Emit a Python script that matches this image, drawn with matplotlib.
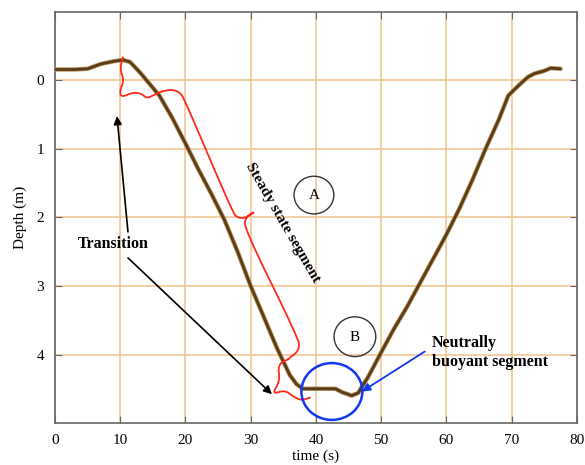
import numpy as np
import matplotlib
matplotlib.use("Agg")
import matplotlib.pyplot as plt
import matplotlib.patheffects as pe
from matplotlib.patches import Ellipse

# Dive profile
time_s = [0, 3, 5, 7, 9, 10.4, 11.5, 13, 14.5, 16, 18, 20, 22, 24, 26, 28, 30, 32,
          34, 35, 36, 37, 38, 40, 43, 44, 45.5, 46.5, 47, 48, 50, 52, 54, 56, 58,
          60, 62, 64, 66, 68, 69.5, 71, 72.5, 73.5, 75, 76, 77.5]
depth_m = [-0.16, -0.16, -0.17, -0.24, -0.28, -0.30, -0.27, -0.12, 0.05, 0.22,
           0.55, 0.92, 1.30, 1.66, 2.04, 2.50, 3.00, 3.45, 3.90, 4.10, 4.30, 4.43,
           4.50, 4.50, 4.50, 4.55, 4.60, 4.56, 4.48, 4.33, 3.97, 3.62, 3.30, 2.95,
           2.60, 2.25, 1.87, 1.45, 1.00, 0.58, 0.22, 0.08, -0.05, -0.10, -0.14,
           -0.18, -0.17]

x_ticks = [0, 10, 20, 30, 40, 50, 60, 70, 80]
y_ticks = [0, 1, 2, 3, 4]

# Red braces (time, depth)
brace_top = [(10.42, -0.335), (9.96, -0.175), (10.57, 0.0), (9.96, 0.145),
             (10.11, 0.247), (11.95, 0.175), (13.18, 0.189), (14.10, 0.262),
             (15.02, 0.218), (16.40, 0.16)]
brace_steady = [(16.40, 0.16), (17.93, 0.131), (19.16, 0.175), (19.92, 0.29),
                (27.28, 1.935), (28.05, 2.007), (29.27, 2.007), (30.80, 1.905),
                (29.27, 1.99), (28.97, 2.15), (37.24, 3.75), (37.55, 3.93),
                (35.71, 4.07)]
brace_bottom = [(35.71, 4.07), (34.18, 4.145), (34.48, 4.39), (33.26, 4.58),
                (35.25, 4.52), (36.47, 4.61), (37.70, 4.67), (39.08, 4.63)]


def chaikin(pts, n=2):
    # round off the corners of a hand-drawn brace
    p = np.array(pts, dtype=float)
    for _ in range(n):
        q = 0.75 * p[:-1] + 0.25 * p[1:]
        r = 0.25 * p[:-1] + 0.75 * p[1:]
        mid = np.empty((2 * len(q), 2))
        mid[0::2] = q
        mid[1::2] = r
        p = np.vstack([p[:1], mid, p[-1:]])
    return p


serif = ["Liberation Serif", "DejaVu Serif"]
plt.rcParams["font.family"] = serif

fig = plt.figure(figsize=(5.85, 4.65), dpi=100)
ax = fig.add_axes([0.094, 0.0903, 0.892, 0.884])

ax.plot(time_s, depth_m, color="#5a3c16", lw=2.0, solid_capstyle="round",
        solid_joinstyle="round",
        path_effects=[pe.Stroke(linewidth=3.2, foreground="#b8955f"), pe.Normal()],
        zorder=3)

ax.set_xlim(0, 80)
ax.set_ylim(5, -1)
ax.set_xticks(x_ticks)
ax.set_yticks(y_ticks)
ax.grid(True, color="#f0c28a", lw=1.1)
ax.set_axisbelow(True)
ax.tick_params(direction="in", top=True, right=True, length=5, color="#666666",
               labelsize=11, pad=8)
for sp in ax.spines.values():
    sp.set_color("#666666")
    sp.set_linewidth(1.2)
ax.set_xlabel("time (s)", fontsize=11, labelpad=2)
ax.set_ylabel("Depth (m)", fontsize=11, labelpad=7)

for pts in (brace_top, brace_steady, brace_bottom):
    b = chaikin(pts)
    ax.plot(b[:, 0], b[:, 1], color="#ff2a1a", lw=1.3, zorder=4)

# Circles A and B, blue ellipse
ax.add_patch(Ellipse((39.7, 1.673), 6.1, 0.55, fill=False, ec="#333333", lw=1.0))
ax.text(39.7, 1.68, "A", ha="center", va="center", fontsize=11)
ax.add_patch(Ellipse((45.98, 3.74), 6.4, 0.58, fill=False, ec="#333333", lw=1.0))
ax.text(45.98, 3.75, "B", ha="center", va="center", fontsize=11)
ax.add_patch(Ellipse((42.45, 4.54), 9.35, 0.83, fill=False, ec="#1238f0", lw=1.8,
                     zorder=5))

# Texts and arrows
ax.text(8.9, 2.385, "Transition", ha="center", va="center", fontsize=11.5,
        fontweight="bold")
ax.annotate("", xy=(9.5, 0.52), xytext=(11.19, 2.21),
            arrowprops=dict(arrowstyle="-|>", color="black", lw=1.2,
                            mutation_scale=12, shrinkA=0, shrinkB=0))
ax.annotate("", xy=(33.26, 4.58), xytext=(11.19, 2.59),
            arrowprops=dict(arrowstyle="-|>", color="black", lw=1.2,
                            mutation_scale=12, shrinkA=0, shrinkB=0))
ax.text(34.9, 2.07, "Steady state segment", ha="center", va="center",
        rotation=-60, rotation_mode="anchor", fontsize=11, fontweight="bold")
ax.text(57.8, 3.97, "Neutrally\nbuoyant segment", ha="left", va="center",
        fontsize=11.5, fontweight="bold", linespacing=1.3)
ax.annotate("", xy=(47.05, 4.54), xytext=(56.7, 3.956),
            arrowprops=dict(arrowstyle="-|>", color="#1238f0", lw=1.3,
                            mutation_scale=12, shrinkA=0, shrinkB=0))

fig.savefig("out.png", dpi=100)
